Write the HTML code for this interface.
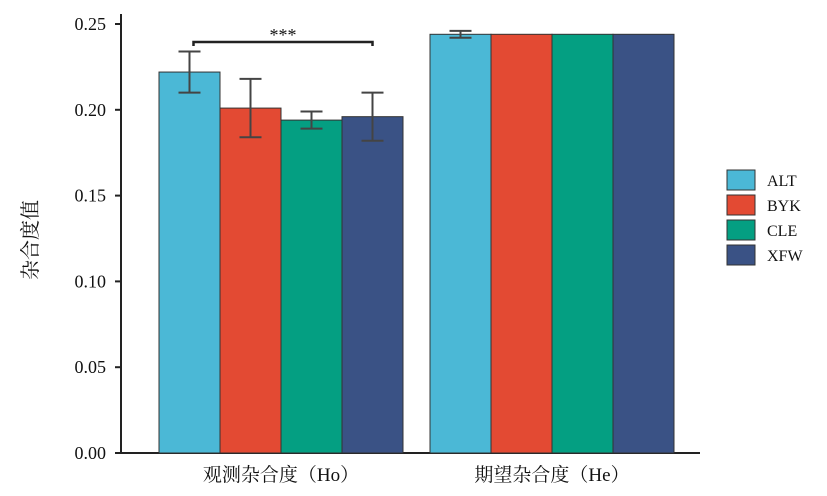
<!DOCTYPE html>
<html><head><meta charset="utf-8"><style>
body{margin:0;background:#fff}
svg{display:block;font-family:"Liberation Serif","Noto Serif CJK SC",serif}
</style></head><body>
<svg id="chart" width="827" height="496" xmlns="http://www.w3.org/2000/svg"></svg>
<script>
const groups=["观测杂合度（Ho）","期望杂合度（He）"];
const seriesNames=["ALT","BYK","CLE","XFW"];
const colors=["#4bb8d6","#e34a33","#049f82","#3a5285"];
const hoValues=[0.222,0.201,0.194,0.196];
const hoErrors=[0.012,0.017,0.005,0.014];
const heValues=[0.244,0.244,0.244,0.244];
const heErrors=[0.002,0,0,0];
const yTicks=[0,0.05,0.10,0.15,0.20,0.25];
const yTickLabels=["0.00","0.05","0.10","0.15","0.20","0.25"];

const NS="http://www.w3.org/2000/svg";
const svg=document.getElementById('chart');
function y(v){return 453-v*1716;}
const groupStart=[159,430], barW=61;
function x(g,s){return groupStart[g]+s*barW;}
function el(t,a,p){const e=document.createElementNS(NS,t);for(const k in a)e.setAttribute(k,a[k]);(p||svg).appendChild(e);return e;}

// axes
const ax=el('line',{x1:121,y1:14,x2:121,y2:453,stroke:'#222','stroke-width':2});


const bx=el('line',{x1:120,y1:453,x2:700,y2:453,stroke:'#222','stroke-width':2});


yTicks.forEach((t,i)=>{
  const l=el('line',{x1:115,x2:121,y1:y(t),y2:y(t),stroke:'#222','stroke-width':2});
  
  
  const tx=el('text',{x:106,y:y(t)+6,'text-anchor':'end','font-size':18,fill:'#111'});
  tx.textContent=yTickLabels[i];
  
  
});
const yt=el('text',{x:0,y:0,'font-size':20,fill:'#111','text-anchor':'middle',transform:'translate(37,240) rotate(-90)'});
yt.textContent="杂合度值";



const vals=[hoValues,heValues], errs=[hoErrors,heErrors];
for(let g=0;g<2;g++){
  for(let s=0;s<4;s++){
    const v=vals[g][s], e=errs[g][s], bx0=x(g,s);
    const r=el('rect',{x:bx0,y:y(v),width:barW,height:453-y(v),fill:colors[s],stroke:'#333','stroke-width':1});
    
    
    if(e>0){
      const cx=bx0+barW/2;
      const p=el('path',{d:`M${cx},${y(v+e)}V${y(v-e)}M${cx-11},${y(v+e)}H${cx+11}M${cx-11},${y(v-e)}H${cx+11}`,stroke:'#444','stroke-width':2,fill:'none'});
      
      
    }
  }
  const gl=el('text',{x:groupStart[g]+barW*2,y:481,'text-anchor':'middle','font-size':19,fill:'#111'});
  gl.textContent=groups[g];
  
  
}
// significance
const x1=x(0,0)+barW/2+4, x2=x(0,3)+barW/2;
const br=el('path',{d:`M${x1},46V42H${x2}V46`,stroke:'#222','stroke-width':2.5,fill:'none'});


const st=el('text',{x:(x1+x2)/2,y:41,'text-anchor':'middle','font-size':18,fill:'#111'});
st.textContent="***";


// legend
seriesNames.forEach((n,i)=>{
  const r=el('rect',{x:727,y:170+i*25,width:28,height:20,fill:colors[i],stroke:'#333','stroke-width':1});
  
  
  const t=el('text',{x:767,y:186+i*25,'font-size':16,fill:'#111'});
  t.textContent=n;
  
  
});
</script>
</body></html>
